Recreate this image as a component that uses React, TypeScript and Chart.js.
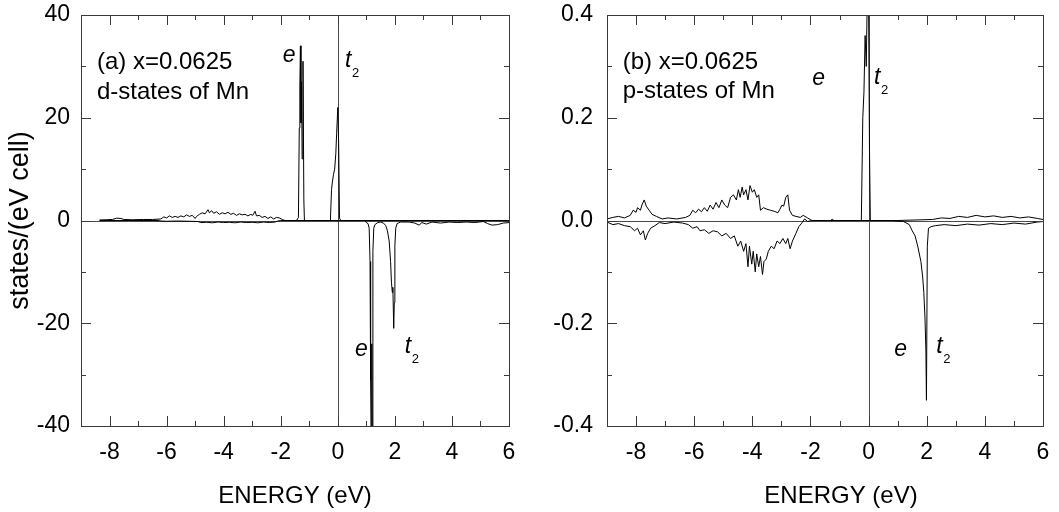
import React, { useEffect, useRef } from "react";
import { Chart, registerables } from "chart.js";

Chart.register(...registerables);

// ---------- axis ticks ----------
const xTicks = [-8, -6, -4, -2, 0, 2, 4, 6];
const xMinorTicks = [-7, -5, -3, -1, 1, 3, 5];
const dYTicks = [-40, -20, 0, 20, 40];
const dYMinorTicks = [-30, -10, 10, 30];
const pYTicks = [-0.4, -0.2, 0, 0.2, 0.4];
const pYMinorTicks = [-0.3, -0.1, 0.1, 0.3];

// ---------- (a) d-states of Mn : [energy eV, states/(eV cell)] ----------
const dUp: [number, number][] = [
  [-8.35, 0.1], [-8.1, 0.15], [-7.9, 0.2], [-7.75, 0.45], [-7.6, 0.4], [-7.5, 0.2],
  [-7.2, 0.15], [-6.8, 0.2], [-6.5, 0.2], [-6.2, 0.3], [-6.1, 0.7], [-6.0, 0.5],
  [-5.9, 0.9], [-5.8, 0.6], [-5.7, 0.8], [-5.6, 0.6], [-5.5, 0.9], [-5.4, 0.7],
  [-5.3, 1.1], [-5.2, 0.8], [-5.1, 1.0], [-5.0, 0.4], [-4.95, 0.8], [-4.85, 1.2],
  [-4.75, 1.5], [-4.65, 1.3], [-4.55, 2.1], [-4.5, 1.5], [-4.42, 1.9], [-4.35, 1.4],
  [-4.25, 1.7], [-4.15, 1.2], [-4.05, 1.5], [-3.95, 1.3], [-3.85, 1.6], [-3.75, 1.2],
  [-3.65, 1.4], [-3.55, 1.0], [-3.45, 1.3], [-3.35, 1.1], [-3.25, 1.2], [-3.15, 0.9],
  [-3.05, 1.2], [-2.98, 1.0], [-2.9, 1.8], [-2.85, 0.9], [-2.75, 1.0], [-2.65, 0.6],
  [-2.55, 0.8], [-2.45, 0.4], [-2.35, 0.7], [-2.25, 0.3], [-2.15, 0.6], [-2.05, 0.5],
  [-1.95, 0.2], [-1.85, 0.0], [-1.45, 0.0], [-1.38, 0.6], [-1.35, 18], [-1.33, 26],
  [-1.31, 34], [-1.29, 19], [-1.27, 27], [-1.25, 12], [-1.22, 31], [-1.19, 4],
  [-1.17, 0], [-0.26, 0], [-0.22, 6], [-0.19, 7.5], [-0.15, 9], [-0.11, 10],
  [-0.07, 13], [-0.04, 17], [0.0, 22], [0.03, 15], [0.06, 0.5], [0.1, 0], [6.0, 0],
];

const dDown: [number, number][] = [
  [-8.35, 0], [-6.3, 0], [-6.2, -0.1], [-6.0, -0.15], [-5.6, -0.1], [-5.2, -0.15],
  [-4.9, -0.2], [-4.8, -0.4], [-4.6, -0.35], [-4.4, -0.45], [-4.2, -0.3], [-4.0, -0.4],
  [-3.8, -0.35], [-3.6, -0.45], [-3.4, -0.3], [-3.2, -0.4], [-3.0, -0.35], [-2.8, -0.45],
  [-2.6, -0.3], [-2.4, -0.4], [-2.2, -0.3], [-2.1, -0.1], [-2.0, 0], [0.95, 0],
  [1.0, -0.4], [1.06, -0.6], [1.1, -1.5], [1.13, -8], [1.15, -31], [1.17, -45],
  [1.19, -24], [1.21, -45], [1.23, -6], [1.26, -1.5], [1.3, -0.8], [1.4, -0.4],
  [1.5, -0.3], [1.6, -0.5], [1.68, -1.0], [1.74, -2.0], [1.8, -4], [1.85, -8],
  [1.88, -12], [1.91, -14], [1.93, -13], [1.96, -21], [1.98, -16], [2.0, -5],
  [2.03, -1.5], [2.08, -0.6], [2.2, -0.3], [2.5, -0.3], [2.7, -0.5], [2.85, -0.9],
  [2.95, -0.4], [3.1, -0.7], [3.3, -0.3], [3.6, -0.5], [3.9, -0.3], [4.2, -0.4],
  [4.5, -0.3], [4.8, -0.4], [5.1, -0.2], [5.25, -0.6], [5.4, -0.9], [5.6, -0.8],
  [5.8, -0.5], [6.0, -0.4],
];

// ---------- (b) p-states of Mn ----------
const pUp: [number, number][] = [
  [-9.0, 0.003], [-8.8, 0.006], [-8.6, 0.008], [-8.4, 0.005], [-8.2, 0.01], [-8.1, 0.02],
  [-8.0, 0.016], [-7.95, 0.025], [-7.85, 0.02], [-7.8, 0.03], [-7.72, 0.04], [-7.65, 0.028],
  [-7.55, 0.02], [-7.45, 0.012], [-7.3, 0.008], [-7.1, 0.003], [-6.9, 0.005], [-6.6, 0.003],
  [-6.3, 0.006], [-6.15, 0.01], [-6.05, 0.02], [-5.95, 0.015], [-5.85, 0.022], [-5.75, 0.017],
  [-5.65, 0.025], [-5.55, 0.018], [-5.45, 0.03], [-5.35, 0.022], [-5.25, 0.035], [-5.15, 0.025],
  [-5.05, 0.04], [-4.95, 0.03], [-4.85, 0.025], [-4.75, 0.045], [-4.65, 0.05], [-4.55, 0.04],
  [-4.48, 0.06], [-4.42, 0.045], [-4.35, 0.065], [-4.3, 0.05], [-4.22, 0.06], [-4.15, 0.04],
  [-4.08, 0.068], [-4.0, 0.055], [-3.93, 0.06], [-3.85, 0.045], [-3.78, 0.05], [-3.72, 0.02],
  [-3.62, 0.025], [-3.5, 0.022], [-3.38, 0.02], [-3.25, 0.018], [-3.12, 0.015], [-3.05, 0.022],
  [-2.98, 0.03], [-2.92, 0.028], [-2.85, 0.045], [-2.78, 0.05], [-2.72, 0.02], [-2.62, 0.01],
  [-2.5, 0.008], [-2.35, 0.006], [-2.25, 0.01], [-2.1, 0.005], [-1.95, 0.0], [-1.3, 0.0],
  [-1.25, 0.003], [-1.2, 0.0], [-0.25, 0.0], [-0.2, 0.2], [-0.16, 0.25], [-0.12, 0.36],
  [-0.08, 0.3], [-0.05, 0.42], [0.0, 0.42], [0.03, 0.14], [0.06, 0.0], [1.0, 0.0],
  [2.2, 0.002], [2.5, 0.005], [2.8, 0.004], [3.1, 0.008], [3.4, 0.006], [3.7, 0.01],
  [4.0, 0.007], [4.3, 0.009], [4.6, 0.006], [4.9, 0.008], [5.2, 0.005], [5.5, 0.007],
  [5.8, 0.004], [6.0, 0.002],
];

const pDown: [number, number][] = [
  [-9.0, -0.003], [-8.8, -0.008], [-8.6, -0.006], [-8.4, -0.01], [-8.2, -0.012], [-8.05, -0.02],
  [-7.95, -0.015], [-7.85, -0.028], [-7.75, -0.02], [-7.68, -0.038], [-7.6, -0.025], [-7.5, -0.015],
  [-7.35, -0.01], [-7.2, -0.004], [-7.0, -0.006], [-6.7, -0.003], [-6.4, -0.005], [-6.2, -0.008],
  [-6.05, -0.015], [-5.9, -0.012], [-5.8, -0.02], [-5.65, -0.018], [-5.5, -0.025], [-5.35, -0.02],
  [-5.2, -0.022], [-5.05, -0.03], [-4.9, -0.025], [-4.75, -0.035], [-4.62, -0.03], [-4.5, -0.05],
  [-4.4, -0.04], [-4.3, -0.06], [-4.22, -0.045], [-4.15, -0.09], [-4.1, -0.05], [-4.02, -0.085],
  [-3.97, -0.06], [-3.9, -0.1], [-3.85, -0.065], [-3.78, -0.09], [-3.72, -0.07], [-3.65, -0.105],
  [-3.6, -0.08], [-3.52, -0.075], [-3.45, -0.06], [-3.35, -0.05], [-3.25, -0.055], [-3.15, -0.04],
  [-3.05, -0.045], [-2.95, -0.035], [-2.85, -0.045], [-2.78, -0.035], [-2.7, -0.055], [-2.62, -0.04],
  [-2.5, -0.025], [-2.4, -0.012], [-2.3, -0.005], [-2.2, 0.003], [-2.1, -0.002], [-1.95, 0],
  [0.8, 0], [1.2, -0.002], [1.4, -0.008], [1.5, -0.02], [1.6, -0.03], [1.69, -0.05],
  [1.8, -0.08], [1.86, -0.11], [1.9, -0.14], [1.94, -0.19], [1.97, -0.25], [1.99, -0.35],
  [2.02, -0.05], [2.06, -0.015], [2.15, -0.012], [2.3, -0.01], [2.6, -0.008], [3.0, -0.01],
  [3.4, -0.007], [3.8, -0.009], [4.2, -0.006], [4.6, -0.008], [5.0, -0.005], [5.4, -0.007],
  [5.8, -0.003], [6.0, -0.002],
];

// ---------- annotations (data coordinates) ----------
const dLabels = [
  { text: "(a) x=0.0625", x: -8.44, y: 30.8 },
  { text: "d-states of Mn", x: -8.44, y: 25.0 },
];
const dOrbitals = [
  { text: "e", sub: "", x: -1.93, y: 32.0 },
  { text: "t", sub: "2", x: 0.25, y: 31.2 },
  { text: "e", sub: "", x: 0.6, y: -25.2 },
  { text: "t", sub: "2", x: 2.35, y: -24.6 },
];
const pLabels = [
  { text: "(b) x=0.0625", x: -8.46, y: 0.308 },
  { text: "p-states of Mn", x: -8.46, y: 0.252 },
];
const pOrbitals = [
  { text: "e", sub: "", x: -1.94, y: 0.277 },
  { text: "t", sub: "2", x: 0.19, y: 0.279 },
  { text: "e", sub: "", x: 0.88, y: -0.252 },
  { text: "t", sub: "2", x: 2.33, y: -0.246 },
];

const FONT = '"Liberation Sans", Arial, Helvetica, sans-serif';

const framePlugin = {
  id: "frame",
  beforeDatasetsDraw(chart: any) {
    const { ctx, chartArea, scales } = chart;
    const { left, right, top, bottom } = chartArea;
    ctx.save();
    ctx.strokeStyle = "#4a4a4a";
    ctx.lineWidth = 1;
    const x0 = Math.round(scales.x.getPixelForValue(0)) + 0.5;
    const y0 = Math.round(scales.y.getPixelForValue(0)) + 0.5;
    ctx.beginPath();
    ctx.moveTo(x0, top);
    ctx.lineTo(x0, bottom);
    ctx.moveTo(left, y0);
    ctx.lineTo(right, y0);
    ctx.stroke();
    ctx.restore();
  },
  afterDraw(chart: any, _args: any, opts: any) {
    const { ctx, chartArea, scales } = chart;
    const { left, right, top, bottom } = chartArea;
    const xs = scales.x;
    const ys = scales.y;
    ctx.save();
    ctx.strokeStyle = "#3a3a3a";
    ctx.lineWidth = 1;
    ctx.strokeRect(Math.round(left) + 0.5, Math.round(top) + 0.5, Math.round(right - left), Math.round(bottom - top));
    const tick = (vals: number[], len: number, horiz: boolean) => {
      ctx.beginPath();
      for (const v of vals) {
        if (horiz) {
          const p = Math.round(xs.getPixelForValue(v)) + 0.5;
          ctx.moveTo(p, bottom);
          ctx.lineTo(p, bottom - len);
          ctx.moveTo(p, top);
          ctx.lineTo(p, top + len);
        } else {
          const p = Math.round(ys.getPixelForValue(v)) + 0.5;
          ctx.moveTo(left, p);
          ctx.lineTo(left + len, p);
          ctx.moveTo(right, p);
          ctx.lineTo(right - len, p);
        }
      }
      ctx.stroke();
    };
    tick(xTicks, 10, true);
    tick(xMinorTicks, 5, true);
    tick(opts.yMajor, 10, false);
    tick(opts.yMinor, 5, false);

    ctx.fillStyle = "#000";
    ctx.textBaseline = "middle";
    ctx.textAlign = "left";
    ctx.font = `24px ${FONT}`;
    for (const l of opts.labels) {
      ctx.fillText(l.text, xs.getPixelForValue(l.x), ys.getPixelForValue(l.y));
    }
    for (const o of opts.orbitals) {
      const px = xs.getPixelForValue(o.x);
      const py = ys.getPixelForValue(o.y);
      ctx.font = `italic 23px ${FONT}`;
      ctx.fillText(o.text, px, py);
      if (o.sub) {
        ctx.font = `13px ${FONT}`;
        ctx.fillText(o.sub, px + 7, py + 13);
      }
    }
    // x axis title
    ctx.font = `24px ${FONT}`;
    ctx.textAlign = "center";
    ctx.fillText(opts.xTitle, (left + right) / 2 + opts.xTitleShift, 496);
    ctx.restore();
  },
};

function makeConfig(p: any): any {
  return {
    type: "line",
    data: {
      datasets: [
        { data: p.up.map(([x, y]: number[]) => ({ x, y })), borderColor: "#000", borderWidth: 1, pointRadius: 0, tension: 0 },
        { data: p.down.map(([x, y]: number[]) => ({ x, y })), borderColor: "#000", borderWidth: 1, pointRadius: 0, tension: 0 },
      ],
    },
    options: {
      animation: false,
      responsive: false,
      devicePixelRatio: 1,
      layout: { padding: { left: 0, right: p.padRight, top: 15, bottom: 0 } },
      plugins: {
        legend: { display: false },
        tooltip: { enabled: false },
        frame: {
          yMajor: p.yTicks,
          yMinor: p.yMinor,
          labels: p.labels,
          orbitals: p.orbitals,
          xTitle: "ENERGY (eV)",
          xTitleShift: p.xTitleShift,
        },
      },
      scales: {
        x: {
          type: "linear",
          min: -9,
          max: 6,
          afterBuildTicks: (s: any) => {
            s.ticks = xTicks.map((v) => ({ value: v }));
          },
          afterFit: (s: any) => {
            s.height = 86;
          },
          grid: { display: false, drawTicks: true, tickLength: 13 },
          border: { display: false },
          ticks: { padding: 0, color: "#000", font: { family: FONT, size: 23 }, maxRotation: 0, callback: (v: any) => String(v) },
        },
        y: {
          type: "linear",
          min: p.yMin,
          max: p.yMax,
          afterBuildTicks: (s: any) => {
            s.ticks = p.yTicks.map((v: number) => ({ value: v }));
          },
          afterFit: (s: any) => {
            s.width = p.yWidth;
          },
          grid: { display: false, drawTicks: true, tickLength: p.yPad },
          border: { display: false },
          ticks: { padding: 0, color: "#000", font: { family: FONT, size: 23 }, callback: p.fmt },
          title: p.yTitle
            ? { display: true, text: p.yTitle, color: "#000", font: { family: FONT, size: 27 }, padding: { top: 4, bottom: 0 } }
            : { display: false },
        },
      },
    },
    plugins: [framePlugin],
  };
}

function Panel({ cfg, left, width }: { cfg: any; left: number; width: number }) {
  const ref = useRef<HTMLCanvasElement | null>(null);
  useEffect(() => {
    if (!ref.current) return;
    const chart = new Chart(ref.current, makeConfig(cfg));
    return () => chart.destroy();
  }, []);
  return (
    <canvas
      ref={ref}
      width={width}
      height={512}
      style={{ position: "absolute", left, top: 0, width, height: 512 }}
    />
  );
}

const dPanel = {
  up: dUp,
  down: dDown,
  yMin: -40,
  yMax: 40,
  yTicks: dYTicks,
  yMinor: dYMinorTicks,
  yWidth: 81,
  yPad: 11,
  padRight: 21,
  fmt: (v: any) => String(v),
  yTitle: "states/(eV cell)",
  labels: dLabels,
  orbitals: dOrbitals,
  xTitleShift: 0,
};

const pPanel = {
  up: pUp,
  down: pDown,
  yMin: -0.4,
  yMax: 0.4,
  yTicks: pYTicks,
  yMinor: pYMinorTicks,
  yWidth: 77,
  yPad: 14,
  padRight: 16,
  fmt: (v: any) => Number(v).toFixed(1),
  yTitle: "",
  labels: pLabels,
  orbitals: pOrbitals,
  xTitleShift: 16,
};

export default function App() {
  return (
    <div style={{ position: "fixed", left: 0, top: 0, width: 1059, height: 512, background: "#fff" }}>
      <Panel cfg={dPanel} left={0} width={530} />
      <Panel cfg={pPanel} left={530} width={529} />
    </div>
  );
}
